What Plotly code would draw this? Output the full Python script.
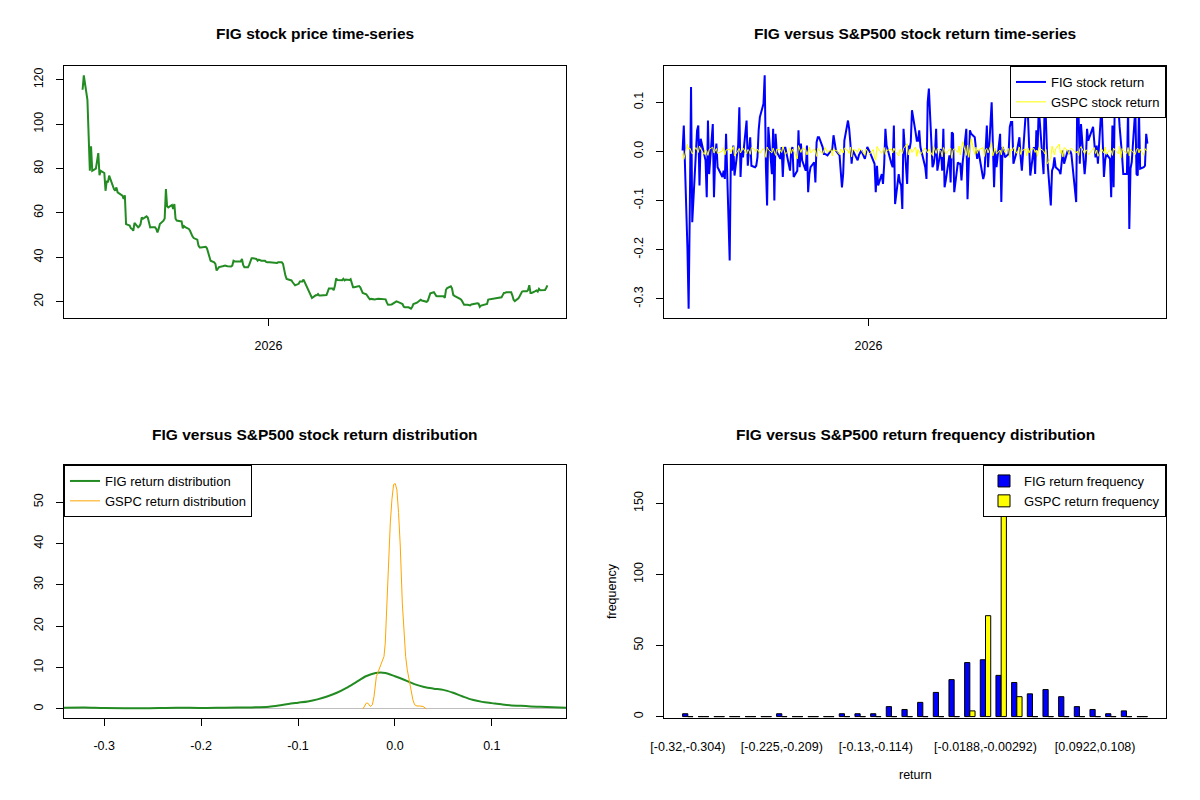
import pandas as pd
import plotly.graph_objects as go

# trading calendar: NYSE closures inside the window
nyse_holidays = ['2025-09-01', '2025-11-27', '2025-12-25', '2026-01-01', '2026-01-19',
                 '2026-02-16', '2026-04-03', '2026-05-25', '2026-06-19', '2026-07-03']
first_day = '2025-07-31'

# FIG close price
fig_price = [
    115.5, 122.0, 111.0, 88.0, 79.0, 90.0, 79.0, 80.0, 82.8, 87.0,
    77.0, 79.0, 78.0, 70.0, 74.5, 73.8, 76.8, 72.0, 70.8, 70.0,
    71.5, 69.3, 67.8, 66.3, 68.0, 55.0, 54.3, 53.1, 52.8, 52.0,
    55.5, 53.5, 54.0, 55.0, 58.0, 57.4, 58.5, 58.0, 55.5, 53.5,
    53.6, 53.6, 52.8, 51.3, 52.8, 55.0, 56.5, 57.5, 70.8, 63.0,
    62.5, 63.6, 61.8, 64.0, 57.4, 56.6, 56.3, 56.2, 53.1, 54.1,
    53.6, 52.8, 52.0, 50.5, 49.5, 48.7, 48.0, 45.3, 44.5, 44.5,
    44.5, 44.8, 44.1, 42.0, 39.3, 38.5, 37.8, 37.1, 34.1, 34.8,
    35.6, 36.0, 36.3, 36.3, 36.0, 35.9, 36.3, 38.5, 38.2, 38.2,
    38.2, 38.2, 39.3, 36.6, 35.6, 35.6, 36.6, 37.8, 39.6, 39.6,
    39.3, 38.5, 39.0, 38.5, 38.5, 38.0, 37.8, 37.8, 37.5, 37.5,
    37.5, 37.5, 37.8, 37.8, 37.1, 33.3, 31.8, 30.3, 29.6, 28.8,
    28.1, 27.4, 28.1, 29.1, 29.1, 29.1, 30.0, 26.6, 25.6, 24.7,
    23.6, 21.7, 22.9, 22.9, 23.5, 22.8, 22.8, 22.9, 23.0, 24.5,
    26.0, 26.0, 25.2, 27.2, 30.5, 29.8, 29.7, 29.7, 30.3, 29.6,
    30.0, 29.8, 30.2, 28.2, 26.6, 26.6, 26.8, 27.1, 26.5, 24.8,
    24.0, 23.4, 22.3, 21.8, 21.1, 21.3, 21.0, 21.0, 21.3, 21.4,
    21.4, 21.4, 21.1, 19.6, 18.7, 18.8, 19.2, 19.5, 20.0, 20.2,
    19.5, 19.3, 19.0, 17.8, 17.5, 17.5, 17.2, 16.9, 17.6, 19.0,
    19.6, 20.2, 20.4, 20.9, 20.6, 20.4, 20.0, 20.5, 22.4, 23.8,
    24.3, 23.6, 22.6, 22.5, 22.5, 22.5, 21.8, 25.4, 26.2, 27.0,
    26.0, 23.1, 22.7, 22.4, 21.6, 21.2, 20.6, 19.4, 18.7, 18.7,
    18.7, 18.4, 18.8, 19.3, 19.3, 19.2, 17.7, 18.3, 18.7, 18.7,
    19.0, 21.0, 21.3, 21.4, 21.5, 21.6, 21.5, 22.0, 23.0, 24.0,
    24.1, 24.3, 24.3, 24.3, 22.8, 20.9, 20.3, 21.6, 22.5, 23.3,
    24.6, 24.7, 24.7, 25.3, 27.5, 24.0, 24.0, 24.8, 25.1, 24.6,
    25.8, 25.2, 25.2, 25.3, 26.2, 27.4,
]

# daily returns (top-right panel)
fig_return = [
    0.002, 0.053, -0.195, -0.32, -0.11, 0.131, -0.144, -0.005, 0.043, 0.053,
    -0.069, 0.026, -0.012, -0.018, -0.093, 0.063, -0.046, 0.056, -0.093, -0.012,
    0.016, -0.032, -0.052, -0.039, -0.056, 0.036, -0.222, -0.005, -0.039, 0.012,
    -0.049, 0.012, 0.09, -0.052, 0.002, -0.012, 0.063, -0.029, 0.002, 0.029,
    -0.029, -0.032, -0.029, -0.012, 0.043, 0.07, 0.097, 0.155, -0.032, -0.11,
    0.05, -0.046, 0.046, -0.1, 0.036, -0.001, -0.015, 0.009, -0.052, 0.002,
    0.009, -0.025, -0.039, 0.002, 0.009, -0.052, -0.039, 0.043, -0.032, 0.016,
    -0.018, -0.039, 0.012, -0.083, -0.046, -0.032, -0.022, -0.063, 0.019, 0.029,
    0.029, 0.009, -0.005, -0.005, -0.008, 0.002, 0.005, 0.033, 0.019, 0.002,
    -0.008, -0.039, -0.073, -0.046, 0.022, 0.063, 0.046, 0.016, -0.025, 0.002,
    -0.012, -0.018, -0.008, 0.002, -0.015, -0.001, 0.009, -0.001, -0.018, -0.025,
    -0.083, -0.029, -0.069, -0.046, -0.066, -0.025, 0.046, 0.012, -0.025, -0.032,
    0.053, -0.107, -0.046, -0.063, -0.069, -0.117, 0.046, -0.066, 0.012, 0.005,
    0.019, 0.084, 0.039, 0.022, 0.022, 0.043, 0.009, -0.032, -0.056, 0.1,
    0.128, -0.032, -0.025, -0.008, 0.046, -0.039, 0.005, -0.039, 0.046, -0.073,
    -0.059, -0.008, -0.063, 0.039, 0.036, -0.083, -0.022, -0.025, -0.025, -0.059,
    -0.022, 0.046, -0.097, -0.005, 0.043, 0.036, 0.029, 0.005, -0.015, 0.002,
    -0.056, -0.046, -0.005, 0.053, -0.032, 0.1, 0.016, -0.073, 0.002, -0.032,
    0.036, -0.103, 0.009, 0.002, -0.012, -0.005, 0.05, 0.06, 0.06, -0.025,
    0.002, 0.016, 0.029, -0.012, -0.039, 0.07, 0.11, 0.077, -0.008, -0.049,
    0.009, -0.046, 0.043, 0.002, 0.09, -0.046, 0.13, 0.073, -0.012, -0.11,
    -0.039, -0.032, -0.012, -0.032, -0.039, -0.046, -0.012, 0.002, -0.025, 0.002,
    -0.005, 0.002, -0.005, -0.103, 0.13, 0.073, -0.025, 0.056, -0.046, -0.018,
    0.046, 0.022, 0.05, 0.026, -0.012, 0.012, -0.025, 0.095, -0.001, -0.052,
    -0.018, -0.005, -0.015, -0.093, 0.053, -0.073, 0.105, 0.09, 0.05, 0.009,
    -0.008, -0.046, -0.046, 0.09, -0.158, -0.035, -0.022, 0.088, -0.046, -0.049,
    0.085, -0.035, -0.032, -0.029, 0.036, 0.016,
]

gspc_return = [
    -0.004, -0.016, 0.015, 0.004, 0.007, 0.002, -0.005, 0.008, 0.003, -0.002,
    0.011, 0.005, -0.006, 0.003, 0.001, -0.008, 0.004, 0.009, -0.003, 0.002,
    0.006, -0.004, 0.001, 0.008, -0.007, 0.003, 0.005, -0.002, 0.004, 0.010,
    -0.009, 0.002, 0.006, -0.003, 0.001, 0.007, -0.005, 0.004, 0.002, -0.006,
    0.008, 0.003, -0.002, 0.005, 0.001, -0.004, 0.006, 0.002, -0.012, 0.009,
    0.004, -0.003, 0.007, 0.001, -0.008, 0.005, 0.003, -0.002, 0.010, 0.004,
    -0.006, 0.002, 0.008, -0.004, 0.005, 0.001, -0.015, 0.012, 0.003, -0.002,
    0.006, 0.004, -0.007, 0.002, 0.009, -0.003, 0.005, 0.001, -0.010, 0.007,
    0.003, -0.005, 0.002, 0.008, -0.002, 0.004, -0.009, 0.006, 0.001, 0.003,
    -0.006, 0.005, 0.002, -0.003, 0.007, 0.001, -0.004, 0.009, -0.011, 0.004,
    0.002, -0.002, 0.006, 0.003, -0.008, 0.005, 0.001, -0.005, 0.004, -0.013,
    -0.018, 0.010, 0.006, -0.004, 0.003, 0.008, -0.006, 0.002, 0.005, -0.003,
    0.007, 0.001, -0.009, 0.004, 0.002, -0.004, 0.006, 0.016, -0.007, 0.003,
    0.005, -0.002, 0.009, -0.010, 0.004, 0.001, -0.006, 0.007, 0.002, -0.003,
    0.005, -0.008, 0.010, 0.003, -0.004, 0.006, 0.001, -0.011, 0.008, 0.002,
    -0.005, 0.004, 0.007, -0.014, 0.003, 0.006, -0.002, 0.011, -0.007, 0.004,
    0.020, -0.008, 0.013, -0.012, 0.005, 0.026, -0.006, 0.009, -0.004, 0.003,
    0.008, -0.010, 0.004, 0.006, -0.003, 0.018, -0.009, 0.002, 0.007, -0.005,
    0.003, -0.007, 0.010, 0.004, -0.002, 0.006, -0.012, 0.005, 0.001, 0.008,
    -0.004, 0.003, 0.009, -0.006, 0.002, 0.005, -0.009, 0.007, -0.003, 0.004,
    0.006, -0.002, 0.003, -0.010, 0.008, 0.001, -0.005, 0.004, -0.025, -0.014,
    0.011, 0.002, -0.007, 0.005, 0.015, -0.004, 0.003, -0.011, 0.008, 0.002,
    -0.006, 0.004, 0.007, -0.003, 0.001, -0.009, 0.006, 0.010, -0.005, 0.003,
    0.002, -0.007, 0.005, 0.008, -0.004, 0.003, -0.010, 0.006, 0.001, -0.003,
    0.009, -0.006, 0.004, 0.002, -0.008, 0.007, 0.003, -0.005, 0.011, -0.013,
    0.006, 0.002, -0.004, 0.008, -0.009, 0.005, 0.001, -0.006, 0.004, 0.007,
    -0.003, 0.005, -0.008, 0.006, 0.002, 0.004,
]

# kernel density curves (bottom-left panel)
fig_dens_x = [-0.3415, -0.32, -0.30, -0.26, -0.225, -0.20, -0.175, -0.15, -0.13, -0.12,
              -0.11, -0.10, -0.09, -0.08, -0.07, -0.06, -0.05, -0.04, -0.03, -0.02,
              -0.01, 0.00, 0.01, 0.02, 0.03, 0.04, 0.05, 0.06, 0.07, 0.08,
              0.09, 0.10, 0.11, 0.12, 0.13, 0.14, 0.15, 0.1765]
fig_dens_y = [0.30, 0.35, 0.22, 0.18, 0.30, 0.22, 0.30, 0.35, 0.50, 0.80,
              1.20, 1.50, 1.80, 2.30, 3.00, 3.90, 5.10, 6.50, 7.90, 8.70,
              8.70, 7.90, 7.00, 6.00, 5.30, 4.90, 4.60, 3.90, 3.00, 2.20,
              1.70, 1.40, 1.10, 0.85, 0.75, 0.60, 0.50, 0.30]
gspc_dens_x = [-0.033, -0.0296, -0.028, -0.0254, -0.0233, -0.0216, -0.0192, -0.0165, -0.013, -0.0113,
               -0.010, -0.0089, -0.0076, -0.0062, -0.0048, -0.0031, -0.0014, 0.0003, 0.002, 0.0037,
               0.0055, 0.0076, 0.0093, 0.011, 0.0127, 0.015, 0.0168, 0.0185, 0.0203, 0.0227,
               0.0254, 0.0289, 0.0323]
gspc_dens_y = [0.0, 1.4, 1.4, 0.6, 1.0, 3.0, 7.8, 9.5, 11.5, 12.7,
               15.9, 22.4, 28.0, 37.8, 45.0, 50.7, 54.3, 54.5, 53.0, 47.5,
               39.4, 25.6, 17.6, 12.7, 9.5, 6.6, 4.2, 2.2, 1.0, 0.7,
               0.7, 0.6, 0.0]

# return frequency table (bottom-right panel)
bin_labels = ['[-0.32,-0.304)', '[-0.304,-0.288)', '[-0.288,-0.273)', '[-0.273,-0.257)',
              '[-0.257,-0.241)', '[-0.241,-0.225)', '[-0.225,-0.209)', '[-0.209,-0.193)',
              '[-0.193,-0.177)', '[-0.177,-0.162)', '[-0.162,-0.146)', '[-0.146,-0.13)',
              '[-0.13,-0.114)', '[-0.114,-0.0981)', '[-0.0981,-0.0823)', '[-0.0823,-0.0664)',
              '[-0.0664,-0.0505)', '[-0.0505,-0.0347)', '[-0.0347,-0.0188)', '[-0.0188,-0.00292)',
              '[-0.00292,0.0129)', '[0.0129,0.0288)', '[0.0288,0.0446)', '[0.0446,0.0605)',
              '[0.0605,0.0763)', '[0.0763,0.0922)', '[0.0922,0.108)', '[0.108,0.124)',
              '[0.124,0.14)', '[0.14,0.156]']
fig_counts = [2, 0, 0, 0, 0, 0, 2, 0, 0, 0, 2, 2, 2, 7, 5, 10, 17, 26, 38, 40,
              29, 24, 16, 19, 14, 7, 5, 2, 4, 0]
gspc_counts = [0, 0, 0, 0, 0, 0, 0, 0, 0, 0, 0, 0, 0, 0, 0, 0, 0, 0, 4, 71,
               183, 14, 0, 0, 0, 0, 0, 0, 0, 0]
shown_bins = [0, 6, 12, 19, 26]

FONT = 'Liberation Sans, Arial, sans-serif'

price_dates = pd.bdate_range(first_day, periods=len(fig_price), freq='C', holidays=nyse_holidays)
fig_ret_dates = pd.bdate_range(first_day, periods=len(fig_return), freq='C', holidays=nyse_holidays)
gspc_ret_dates = pd.bdate_range(first_day, periods=len(gspc_return), freq='C', holidays=nyse_holidays)

# R style 4% padding on the time axis
t0 = price_dates[0]
t1 = max(price_dates[-1], fig_ret_dates[-1], gspc_ret_dates[-1])
tpad = (t1 - t0) * 0.04
time_range = [str(t0 - tpad), str(t1 + tpad)]

p_lo, p_hi = min(fig_price), max(fig_price)
price_range = [p_lo - 0.04 * (p_hi - p_lo), p_hi + 0.04 * (p_hi - p_lo)]
r_lo = min(min(fig_return), min(gspc_return))
r_hi = max(max(fig_return), max(gspc_return))
ret_range = [r_lo - 0.04 * (r_hi - r_lo), r_hi + 0.04 * (r_hi - r_lo)]

fig = go.Figure()

fig.add_trace(go.Scatter(x=price_dates, y=fig_price, mode='lines',
                         line=dict(color='forestgreen', width=2),
                         showlegend=False, xaxis='x', yaxis='y'))

fig.add_trace(go.Scatter(x=fig_ret_dates, y=fig_return, mode='lines', name='FIG stock return',
                         line=dict(color='blue', width=2),
                         legend='legend', xaxis='x2', yaxis='y2'))
fig.add_trace(go.Scatter(x=gspc_ret_dates, y=gspc_return, mode='lines', name='GSPC stock return',
                         line=dict(color='yellow', width=1),
                         legend='legend', xaxis='x2', yaxis='y2'))

fig.add_trace(go.Scatter(x=fig_dens_x, y=fig_dens_y, mode='lines', name='FIG return distribution',
                         line=dict(color='forestgreen', width=2, shape='spline', smoothing=0.8),
                         legend='legend2', xaxis='x3', yaxis='y3'))
fig.add_trace(go.Scatter(x=gspc_dens_x, y=gspc_dens_y, mode='lines', name='GSPC return distribution',
                         line=dict(color='orange', width=1),
                         legend='legend2', xaxis='x3', yaxis='y3'))

bin_idx = list(range(len(bin_labels)))
fig.add_trace(go.Bar(x=bin_idx, y=fig_counts, name='FIG return frequency',
                     marker=dict(color='blue', line=dict(color='black', width=1)),
                     legend='legend3', xaxis='x4', yaxis='y4'))
fig.add_trace(go.Bar(x=bin_idx, y=gspc_counts, name='GSPC return frequency',
                     marker=dict(color='yellow', line=dict(color='black', width=1)),
                     legend='legend3', xaxis='x4', yaxis='y4'))

# empty bins still show their flat outline in R's barplot
dash_x = []
dash_y = []
for k in bin_idx:
    if fig_counts[k] == 0:
        dash_x += [k - 1 / 3, k, None]
        dash_y += [0, 0, None]
    if gspc_counts[k] == 0:
        dash_x += [k, k + 1 / 3, None]
        dash_y += [0, 0, None]
fig.add_trace(go.Scatter(x=dash_x, y=dash_y, mode='lines', line=dict(color='black', width=1),
                         showlegend=False, hoverinfo='skip', xaxis='x4', yaxis='y4'))

# the page body adds an 8px offset, so pixel positions are shifted back by it
OFF = 8
W, H = 1200, 800


def px_x(p):
    return (p - OFF) / W


def px_y(p):
    return 1 - (p - OFF) / H


left_dom = [px_x(64), px_x(566)]
right_dom = [px_x(664), px_x(1166)]
top_dom = [px_y(318), px_y(66)]
bot_dom = [px_y(718), px_y(465)]

axis_style = dict(showline=True, linecolor='black', linewidth=1, mirror=True,
                  ticks='outside', ticklen=7, tickwidth=1, tickcolor='black',
                  showgrid=False, zeroline=False, automargin=False,
                  tickfont=dict(family=FONT, size=12.5, color='black'))
x_style = dict(axis_style, ticklabelstandoff=9)
y_style = dict(axis_style, tickangle=-90, ticklabelstandoff=8)

legend_style = dict(font=dict(family=FONT, size=13, color='black'), bgcolor='white',
                    bordercolor='black', borderwidth=1, xref='paper', yref='paper',
                    tracegroupgap=0, itemwidth=30)

fig.update_layout(
    width=W, height=H, autosize=False,
    margin=dict(l=0, r=0, t=0, b=0, pad=0, autoexpand=False),
    paper_bgcolor='white', plot_bgcolor='white',
    font=dict(family=FONT, size=12, color='black'),
    barmode='group', bargap=1 / 3, bargroupgap=0,
    xaxis=dict(x_style, domain=left_dom, anchor='y', type='date', range=time_range,
               tickvals=['2026-01-01'], ticktext=['2026']),
    yaxis=dict(y_style, domain=top_dom, anchor='x', range=price_range,
               tickvals=[20, 40, 60, 80, 100, 120]),
    xaxis2=dict(x_style, domain=right_dom, anchor='y2', type='date', range=time_range,
                tickvals=['2026-01-01'], ticktext=['2026']),
    yaxis2=dict(y_style, domain=top_dom, anchor='x2', range=ret_range,
                tickvals=[-0.3, -0.2, -0.1, 0.0, 0.1], ticktext=['-0.3', '-0.2', '-0.1', '0.0', '0.1']),
    xaxis3=dict(x_style, domain=left_dom, anchor='y3', range=[-0.3415, 0.1765],
                tickvals=[-0.3, -0.2, -0.1, 0.0, 0.1], ticktext=['-0.3', '-0.2', '-0.1', '0.0', '0.1']),
    yaxis3=dict(y_style, domain=bot_dom, anchor='x3', range=[-2.2, 59],
                tickvals=[0, 10, 20, 30, 40, 50],
                zeroline=True, zerolinecolor='#bebebe', zerolinewidth=1),
    xaxis4=dict(x_style, domain=right_dom, anchor='y4', range=[-1.52, 30.52], ticks='',
                ticklabelstandoff=17,
                tickvals=shown_bins, ticktext=[bin_labels[k] for k in shown_bins]),
    yaxis4=dict(y_style, domain=bot_dom, anchor='x4', range=[-1, 177],
                tickvals=[0, 50, 100, 150]),
    legend=dict(legend_style, x=right_dom[1], y=top_dom[1], xanchor='right', yanchor='top'),
    legend2=dict(legend_style, x=left_dom[0], y=bot_dom[1], xanchor='left', yanchor='top'),
    legend3=dict(legend_style, x=right_dom[1], y=bot_dom[1], xanchor='right', yanchor='top'),
)

titles = [
    ('FIG stock price time-series', 315, 34),
    ('FIG versus S&P500 stock return time-series', 915, 34),
    ('FIG versus S&P500 stock return distribution', 315, 434),
    ('FIG versus S&P500 return frequency distribution', 915, 434),
]
for text, x, y in titles:
    fig.add_annotation(text='<b>' + text + '</b>', x=px_x(x), y=px_y(y), xref='paper', yref='paper',
                       xanchor='center', yanchor='middle', showarrow=False,
                       font=dict(family=FONT, size=15.5, color='black'))

# axis titles of the barplot
fig.add_annotation(text='return', x=px_x(915), y=px_y(775), xref='paper', yref='paper',
                   xanchor='center', yanchor='middle', showarrow=False,
                   font=dict(family=FONT, size=12.5, color='black'))
fig.add_annotation(text='frequency', x=px_x(612), y=px_y(591), xref='paper', yref='paper',
                   xanchor='center', yanchor='middle', showarrow=False, textangle=-90,
                   font=dict(family=FONT, size=12.5, color='black'))

fig.write_html('out.html')
